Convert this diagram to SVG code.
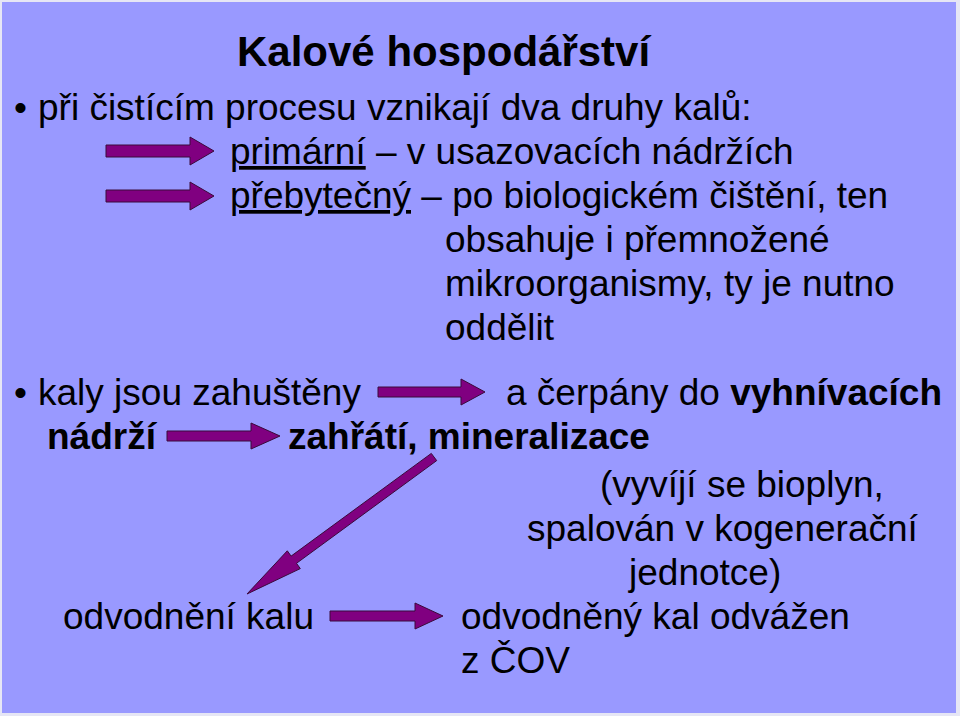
<svg xmlns="http://www.w3.org/2000/svg" width="960" height="716" viewBox="0 0 960 716">
<style>
text{font-family:"Liberation Sans",Arial,sans-serif;fill:#000;font-size:37px}
.t{font-size:42px;font-weight:bold}
.b{font-weight:bold}
.u{text-decoration:underline}
.arr{fill:#800080;stroke:#3a0a3a;stroke-width:1}
</style>
<rect x="0" y="0" width="960" height="716" fill="#e6e6f5"/>
<rect x="2" y="2" width="954" height="711" fill="#9999ff"/>
<g id="title"><text class="t" x="237" y="66">Kalové hospodářství</text></g>
<g id="text">
<text x="14" y="120">•</text>
<text x="38" y="120">při čistícím procesu vznikají dva druhy kalů:</text>
<text x="230" y="164"><tspan class="u">primární</tspan> – v usazovacích nádržích</text>
<text x="230" y="208"><tspan class="u">přebytečný</tspan> – po biologickém čištění, ten</text>
<text x="445" y="252">obsahuje i přemnožené</text>
<text x="445" y="296">mikroorganismy, ty je nutno</text>
<text x="445" y="340">oddělit</text>
<text x="14" y="405">•</text>
<text x="38" y="405">kaly jsou zahuštěny</text>
<text x="506" y="405">a čerpány do <tspan class="b">vyhnívacích</tspan></text>
<text class="b" x="47" y="449">nádrží</text>
<text class="b" x="288" y="449">zahřátí, mineralizace</text>
<text x="600" y="497">(vyvíjí se bioplyn,</text>
<text x="527" y="541">spalován v kogenerační</text>
<text x="629" y="585">jednotce)</text>
<text x="63" y="629">odvodnění kalu</text>
<text x="461" y="629">odvodněný kal odvážen</text>
<text x="461" y="673">z ČOV</text>
</g>
<g id="connectors">
<polygon class="arr" points="106,145 190,145 190,137 214,151 190,165 190,157 106,157"/>
<polygon class="arr" points="106,190 190,190 190,182 214,196 190,210 190,202 106,202"/>
<polygon class="arr" points="378,387 461,387 461,379 485,392 461,405 461,397 378,397"/>
<polygon class="arr" points="167,431 251,431 251,423 280,436 251,449 251,441 167,441"/>
<polygon class="arr" points="431.3,453.4 291.1,556.1 287.3,550.8 247,594 300.3,568.6 296.5,563.3 436.7,460.6"/>
<polygon class="arr" points="330,611 415,611 415,603 443,616 415,629 415,621 330,621"/>
</g>
</svg>
